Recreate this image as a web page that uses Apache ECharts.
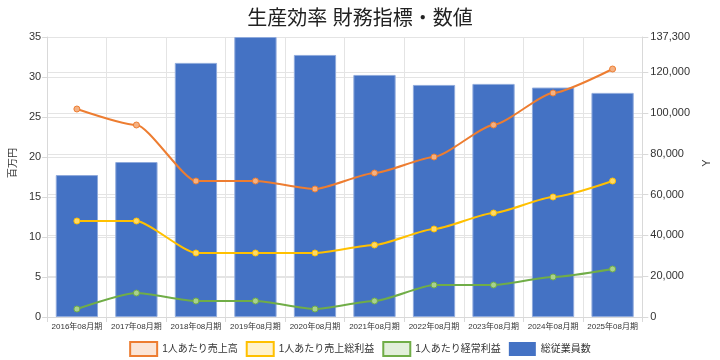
<!DOCTYPE html>
<html><head><meta charset="utf-8">
<script src="https://cdn.jsdelivr.net/npm/echarts@6/dist/echarts.min.js"></script>
<style>html,body{margin:0;padding:0;background:#fff}#c{width:720px;height:360px}</style>
</head><body><div id="c"></div>
<script>
const categories = ['2016年08月期','2017年08月期','2018年08月期','2019年08月期','2020年08月期','2021年08月期','2022年08月期','2023年08月期','2024年08月期','2025年08月期'];
const salesPerPerson = [26, 24, 17, 17, 16, 18, 20, 24, 28, 31];
const grossProfitPerPerson = [12, 12, 8, 8, 8, 9, 11, 13, 15, 17];
const ordinaryProfitPerPerson = [1, 3, 2, 2, 1, 2, 4, 4, 5, 6];
const employees = [69600, 76000, 124600, 137300, 128500, 118700, 113800, 114300, 112500, 109900];
const seriesNames = ['1人あたり売上高','1人あたり売上総利益','1人あたり経常利益','総従業員数'];

const FONT = '"Liberation Sans", "Noto Sans CJK JP", sans-serif';
const chart = echarts.init(document.getElementById('c'), null, {renderer:'canvas'});
const gridColor = '#e4e4e4';
const axisColor = '#d9d9d9';
function lineSeries(name, data, color, fill) {
  return {
    name, type:'line', data, yAxisIndex:0, smooth:0.2, smoothMonotone:'x', z:5,
    symbol:'circle', symbolSize:6,
    lineStyle:{color, width:2},
    itemStyle:{color:fill, borderColor:color, borderWidth:1}
  };
}
chart.setOption({
  animation:false,
  textStyle:{fontFamily:FONT},
  title:{text:'生産効率 財務指標・数値', left:'center', top:4,
    textStyle:{fontSize:20, fontWeight:'normal', color:'#222', fontFamily:FONT}},
  grid:{left:37, right:63, top:37, bottom:43},
  legend:{
    left:'center', top:341, padding:0, itemWidth:27, itemHeight:14, itemGap:8,
    textStyle:{fontSize:10, color:'#333', fontFamily:FONT},
    data:[
      {name:seriesNames[0], icon:'rect', itemStyle:{color:'#FBE5D6', borderColor:'#ED7D31', borderWidth:2}, lineStyle:{opacity:0}},
      {name:seriesNames[1], icon:'rect', itemStyle:{color:'#FFF2CC', borderColor:'#FFC000', borderWidth:2}, lineStyle:{opacity:0}},
      {name:seriesNames[2], icon:'rect', itemStyle:{color:'#E2EFDA', borderColor:'#70AD47', borderWidth:2}, lineStyle:{opacity:0}},
      {name:seriesNames[3], icon:'rect', itemStyle:{color:'#4472C4', borderColor:'#4472C4', borderWidth:0}}
    ]
  },
  xAxis:{
    type:'category', data:categories, boundaryGap:true,
    axisLine:{lineStyle:{color:axisColor}},
    axisTick:{show:true, length:5, lineStyle:{color:axisColor}},
    splitLine:{show:true, lineStyle:{color:gridColor}},
    axisLabel:{fontSize:8, color:'#333', interval:0, margin:6}
  },
  yAxis:[
    {type:'value', min:0, max:35, interval:5, position:'left',
     name:'百万円', nameLocation:'middle', nameRotate:90, nameGap:25,
     nameTextStyle:{fontSize:10, color:'#333', padding:[0,0,0,28]},
     axisLine:{show:true, lineStyle:{color:axisColor}},
     axisTick:{show:true, length:5, lineStyle:{color:axisColor}},
     splitLine:{show:true, lineStyle:{color:gridColor}},
     axisLabel:{fontSize:11, color:'#333', margin:6}},
    {type:'value', min:0, max:137300, interval:20000, position:'right',
     name:'Y', nameLocation:'middle', nameRotate:90, nameGap:47,
     nameTextStyle:{fontSize:11, color:'#333', padding:[0,0,0,28]},
     axisLine:{show:true, lineStyle:{color:axisColor}},
     axisTick:{show:true, length:6, lineStyle:{color:axisColor}},
     splitLine:{show:true, lineStyle:{color:gridColor}},
     axisLabel:{fontSize:11, color:'#333', margin:8}}
  ],
  series:[
    {name:seriesNames[3], type:'bar', data:employees, yAxisIndex:1, z:2,
     barCategoryGap:'29%',
     itemStyle:{color:'#4472C4', borderColor:'#8FAADC', borderWidth:1}},
    lineSeries(seriesNames[0], salesPerPerson, '#ED7D31', '#F4B183'),
    lineSeries(seriesNames[1], grossProfitPerPerson, '#FFC000', '#FFD966'),
    lineSeries(seriesNames[2], ordinaryProfitPerPerson, '#70AD47', '#A9D18E')
  ]
});
</script></body></html>
